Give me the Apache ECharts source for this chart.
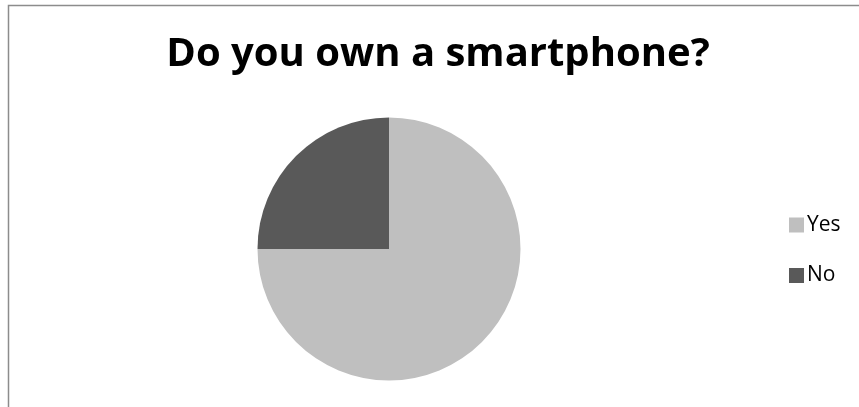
<!DOCTYPE html>
<html><head><meta charset="utf-8">
<script src="https://cdn.jsdelivr.net/npm/echarts@6/dist/echarts.min.js"></script>
<style>html,body{margin:0;padding:0;background:#fff}#c{width:859px;height:407px}</style>
</head><body><div id="c"></div>
<script>
const titleText = "Do you own a smartphone?";
const categories = ["Yes", "No"];
const values = [75, 25];
const colors = ["#bfbfbf", "#595959"];

const chart = echarts.init(document.getElementById('c'), null, {renderer: 'canvas'});
chart.setOption({
  animation: false,
  backgroundColor: '#fff',
  graphic: [{
    type: 'polyline', silent: true,
    shape: {points: [[8.5, 407], [8.5, 5.5], [859, 5.5]]},
    style: {stroke: '#8c8c8c', lineWidth: 1.5, fill: null}
  }],
  title: {
    text: titleText, left: 433, top: 30, textAlign: 'center',
    textStyle: {fontFamily: 'Open Sans', fontWeight: 'bold', fontSize: 40, color: '#000'}
  },
  legend: {
    orient: 'vertical', left: 784, top: 209.5, itemWidth: 15, itemHeight: 15, itemGap: 29.5,
    icon: 'rect',
    textStyle: {fontFamily: 'Open Sans', fontSize: 21, color: '#000', padding: [0,0,0,-2]},
    data: categories
  },
  series: [{
    type: 'pie', center: [389, 249], radius: 131.5, startAngle: 90, clockwise: true,
    label: {show: false}, labelLine: {show: false}, silent: true,
    itemStyle: {borderWidth: 0},
    data: categories.map((c, i) => ({name: c, value: values[i], itemStyle: {color: colors[i]}}))
  }]
});
</script></body></html>
